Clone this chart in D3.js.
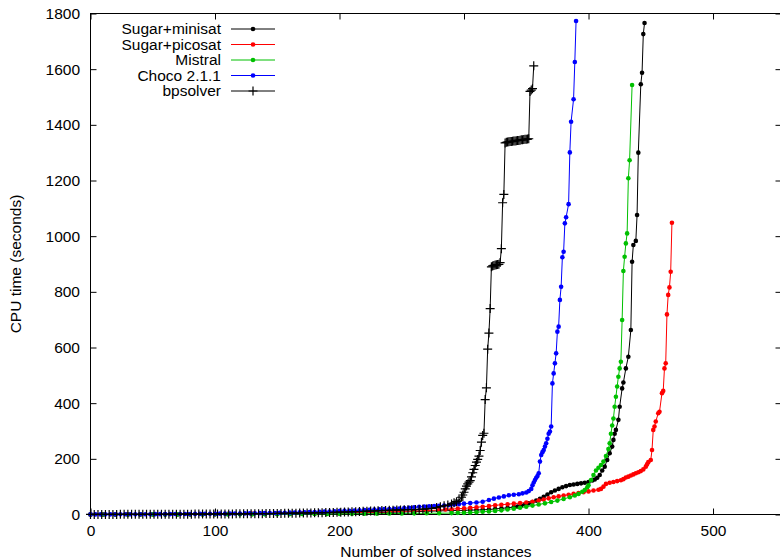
<!DOCTYPE html>
<html>
<head>
<meta charset="utf-8">
<script src="https://cdnjs.cloudflare.com/ajax/libs/d3/7.8.5/d3.min.js"></script>
<style>
  body { margin: 0; background: #fff; }
  text { font-family: "Liberation Sans", Arial, sans-serif; font-size: 15.5px; fill: #000; }
</style>
</head>
<body>
<div id="chart"></div>
<script>
// cactus plot: instance count vs CPU time (s)
const xTicks = [0, 100, 200, 300, 400, 500];
const yTicks = [0, 200, 400, 600, 800, 1000, 1200, 1400, 1600, 1800];
const seriesNames = ['Sugar+minisat', 'Sugar+picosat', 'Mistral', 'Choco 2.1.1', 'bpsolver'];

const sugarMinisat = [
  [0,0.2],[10,0.3],[20,0.4],[30,0.5],[40,0.6],[50,0.7],[60,0.8],[70,0.9],[80,1],[90,1.2],
  [100,1.4],[110,1.6],[120,1.8],[130,2],[140,2.3],[150,2.6],[160,3],[170,3.4],[180,3.8],[190,4.3],
  [200,4.8],[210,5.5],[220,6.2],[230,7],[240,8],[250,9],[260,10],[270,11.5],[280,13],[290,14],
  [300,15],[305,16],[310,16],[315,17],[320,18],[325,20],[330,22],[335,24],[340,27],[343,29],
  [346,32],[349,36],[352,40],[355,45],[358,50],[361,56],[364,64],[367,72],[370,80],[373,86],
  [376,92],[379,98],[382,102],[385,106],[388,108],[391,110],[394,112],[397,114],[400,117],[403,122],
  [405,126],[407,132],[409,142],[411,158],[413,172],[415,196],[417,220],[419,244],[420,268],[421,290],
  [422,304],[424,340],[425,387],[427,453],[428,474],[430,525],[432,567],[434,663],[435,908],[436,968],
  [438,983],[439,1076],[440,1300],[442,1546],[443,1587],[444,1726],[445,1766]
];
const sugarPicosat = [
  [0,0.2],[10,0.3],[20,0.4],[30,0.5],[40,0.6],[50,0.7],[60,0.8],[70,0.9],[80,1],[90,1.2],
  [100,1.4],[110,1.6],[120,1.9],[130,2.2],[140,2.5],[150,2.9],[160,3.3],[170,3.8],[180,4.4],[190,5],
  [200,5.8],[210,6.6],[220,7.5],[230,8.5],[240,9.5],[250,11],[260,12.5],[270,14],[280,16],[285,18],
  [290,19],[295,21],[300,22],[305,24],[310,26],[315,28],[320,30],[325,33],[330,35],[335,37],
  [340,39],[345,41],[350,43],[355,46],[360,50],[364,54],[368,58],[372,62],[376,65],[380,68],
  [384,71],[388,74],[392,77],[396,80],[400,83],[404,86],[408,89],[410,92],[412,100],[414,110],
  [417,114],[420,117],[423,120],[426,123],[428,127],[430,133],[432,136],[434,140],[436,144],[438,148],
  [440,152],[442,156],[444,162],[446,172],[447,180],[448,188],[450,196],[451,232],[452,304],[453,316],
  [454,334],[456,364],[457,369],[459,436],[460,444],[461,525],[462,543],[463,719],[464,789],[465,816],
  [466,872],[467,1048]
];
const mistral = [
  [0,0.1],[10,0.1],[20,0.2],[30,0.2],[40,0.3],[50,0.3],[60,0.4],[70,0.4],[80,0.5],[90,0.6],
  [100,0.7],[110,0.8],[120,0.9],[130,1],[140,1.1],[150,1.3],[160,1.5],[170,1.7],[180,1.9],[190,2.1],
  [200,2.4],[210,2.6],[220,2.9],[230,3.2],[240,3.5],[250,3.8],[260,4.1],[270,4.4],[280,4.7],[290,5],
  [295,6],[300,6],[305,7],[310,8],[315,10],[320,11],[325,13],[330,15],[335,18],[340,21],
  [345,24],[350,28],[355,32],[360,36],[365,40],[370,45],[375,50],[380,56],[385,62],[389,68],
  [392,74],[395,82],[397,88],[399,98],[400,105],[402,124],[404,142],[406,158],[408,168],[410,178],
  [412,190],[414,210],[416,235],[417,256],[418,290],[419,320],[420,345],[421,387],[422,423],[423,460],
  [424,495],[425,525],[426,549],[427,699],[428,875],[429,926],[430,974],[431,1010],[432,1208],[433,1273],
  [435,1543]
];
const choco = [
  [0,0.3],[4,0.4],[8,0.4],[12,0.5],[16,0.5],[20,0.6],[24,0.7],[28,0.7],[32,0.8],[36,0.9],
  [40,1],[44,1.1],[48,1.1],[52,1.2],[56,1.3],[60,1.4],[64,1.5],[68,1.6],[72,1.7],[76,1.8],
  [80,2],[84,2.1],[88,2.3],[92,2.5],[96,2.6],[100,2.8],[104,3],[108,3.1],[112,3.3],[116,3.5],
  [120,3.8],[124,4],[128,4.2],[132,4.5],[136,4.8],[140,5],[144,5.3],[148,5.6],[152,6],[156,6.3],
  [160,6.7],[164,7.1],[168,7.6],[172,8],[176,8.5],[180,9],[184,9.6],[188,10.2],[192,10.8],[196,11.5],
  [200,12.2],[204,12.9],[208,13.6],[212,14.4],[216,15.2],[220,16],[224,16.8],[228,17.6],[232,18.4],[236,19.2],
  [240,20],[244,20.8],[248,21.6],[252,22.8],[256,24.4],[260,26],[264,27.5],[268,28.5],[272,29.4],[276,30.2],
  [280,31],[284,32.5],[288,34],[292,35.8],[296,37.4],[300,39],[305,41],[310,43],[315,46],[320,52],
  [324,57],[328,61],[332,65],[336,69],[340,71],[344,73],[347,76],[350,79],[352,84],[354,92],
  [355,105],[356,115],[357,124],[358,132],[359,138],[360,148],[361,190],[362,214],[363,224],[364,232],
  [365,244],[366,256],[367,272],[368,290],[369,298],[370,316],[371,471],[372,507],[373,543],[374,579],
  [375,657],[376,675],[377,771],[378,818],[379,924],[380,944],[381,1046],[382,1068],[384,1115],[385,1301],
  [386,1411],[388,1492],[389,1626],[390,1773]
];
const bpsolver = [
  [0,0.2],[3,0.2],[6,0.3],[9,0.3],[12,0.3],[15,0.4],[18,0.4],[21,0.4],[24,0.5],[27,0.5],
  [30,0.5],[33,0.6],[36,0.6],[39,0.6],[42,0.7],[45,0.7],[48,0.8],[51,0.8],[54,0.8],[57,0.9],
  [60,0.9],[63,1],[66,1],[69,1.1],[72,1.1],[75,1.2],[78,1.3],[81,1.3],[84,1.4],[87,1.4],
  [90,1.5],[93,1.6],[96,1.7],[99,1.8],[102,1.8],[105,1.9],[108,2],[111,2.1],[114,2.2],[117,2.3],
  [120,2.4],[123,2.5],[126,2.6],[129,2.8],[132,2.9],[135,3],[138,3.1],[141,3.3],[144,3.4],[147,3.6],
  [150,3.8],[153,4],[156,4.2],[159,4.4],[162,4.6],[165,4.8],[168,5],[171,5.3],[174,5.5],[177,5.8],
  [180,6],[183,6.3],[186,6.6],[189,6.9],[192,7.2],[195,7.6],[198,8],[201,8.4],[204,8.8],[207,9.3],
  [210,9.8],[213,10.3],[216,10.8],[219,11.3],[222,11.8],[225,12.4],[228,12.9],[231,13.5],[234,14],[237,14.5],
  [240,15],[243,15.5],[246,16],[249,16.4],[252,16.8],[255,17],[258,17.3],[261,17.6],[264,18.2],[267,19],
  [270,20],[274,22],[278,25],[281,28],[284,31],[287,34],[290,38],[292,42],[294,46],[296,52],
  [298,62],[299,70],[300,80],[301,92],[302,102],[303,110],[304,116],[305,122],[306,135],[307,150],
  [308,162],[309,176],[310,188],[311,198],[312,210],[313,230],[314,260],[315,284],[316,292],[317,413],
  [318,455],[319,594],[320,652],[321,740],[322,890],[323,893],[324,895],[325,896],[326,897],[327,898],
  [328,899],[329,905],[330,955],[331,1120],[332,1150],[333,1335],[334,1337],[335,1338],[336,1339],[337,1340],
  [338,1340],[339,1341],[340,1342],[341,1342],[342,1343],[343,1344],[344,1344],[345,1345],[346,1346],[347,1346],
  [348,1347],[349,1348],[350,1348],[351,1349],[352,1350],[353,1520],[354,1525],[355,1530],[356,1612]
];

const seriesData = [sugarMinisat, sugarPicosat, mistral, choco, bpsolver];
const seriesColors = ['#000000', '#ff0000', '#00c000', '#0000ff', '#000000'];
const seriesMarks = ['dot', 'dot', 'dot', 'dot', 'plus'];

const width = 780, height = 560;
const plot = { left: 90.5, right: 781.5, top: 13.5, bottom: 514.5 };

const svg = d3.select('#chart')
  .append('svg')
  .attr('width', width)
  .attr('height', height);

const x = d3.scaleLinear().domain([0, 555]).range([plot.left, plot.right]);
const y = d3.scaleLinear().domain([0, 1800]).range([plot.bottom, plot.top]);

// axes with inward ticks, mirrored on top/right
svg.append('g')
  .attr('transform', `translate(0,${plot.bottom})`)
  .call(d3.axisBottom(x).tickValues(xTicks).tickFormat(d3.format('d')).tickSizeInner(-6).tickSizeOuter(0).tickPadding(10))
  .call(g => g.select('.domain').remove());
svg.append('g')
  .attr('transform', `translate(0,${plot.top})`)
  .call(d3.axisTop(x).tickValues(xTicks).tickSizeInner(-6).tickSizeOuter(0).tickFormat(''))
  .call(g => g.select('.domain').remove());
svg.append('g')
  .attr('transform', `translate(${plot.left},0)`)
  .call(d3.axisLeft(y).tickValues(yTicks).tickFormat(d3.format('d')).tickSizeInner(-6).tickSizeOuter(0).tickPadding(10.5))
  .call(g => g.select('.domain').remove());
svg.append('g')
  .attr('transform', `translate(${plot.right},0)`)
  .call(d3.axisRight(y).tickValues(yTicks).tickSizeInner(-6).tickSizeOuter(0).tickFormat(''))
  .call(g => g.select('.domain').remove());

svg.selectAll('.tick line').attr('stroke', '#000');
svg.selectAll('.tick text').style('font-size', '15.5px').attr('fill', '#000');

svg.append('rect')
  .attr('x', plot.left).attr('y', plot.top)
  .attr('width', plot.right - plot.left).attr('height', plot.bottom - plot.top)
  .attr('fill', 'none').attr('stroke', '#000').attr('stroke-width', 1);

// axis titles
svg.append('text')
  .attr('x', (plot.left + plot.right) / 2)
  .attr('y', 557)
  .style('text-anchor', 'middle')
  .text('Number of solved instances');
svg.append('text')
  .attr('transform', `translate(21,${(plot.top + plot.bottom) / 2}) rotate(-90)`)
  .style('text-anchor', 'middle')
  .text('CPU time (seconds)');

const line = d3.line().x(d => x(d[0])).y(d => y(d[1]));

function drawMarks(g, pts, mark, color) {
  if (mark === 'plus') {
    g.selectAll('path.mk')
      .data(pts)
      .join('path')
      .attr('class', 'mk')
      .attr('d', d => `M${x(d[0]) - 4.5},${y(d[1])}H${x(d[0]) + 4.5}M${x(d[0])},${y(d[1]) - 4.5}V${y(d[1]) + 4.5}`)
      .attr('stroke', color)
      .attr('stroke-width', 1.2)
      .attr('fill', 'none');
  } else {
    g.selectAll('circle.mk')
      .data(pts)
      .join('circle')
      .attr('class', 'mk')
      .attr('cx', d => x(d[0]))
      .attr('cy', d => y(d[1]))
      .attr('r', 2.3)
      .attr('fill', color);
  }
}

svg.append('clipPath').attr('id', 'clip')
  .append('rect')
  .attr('x', plot.left - 5).attr('y', plot.top - 5)
  .attr('width', plot.right - plot.left + 10).attr('height', plot.bottom - plot.top + 10);

seriesData.forEach((data, i) => {
  const g = svg.append('g').attr('clip-path', 'url(#clip)');
  g.append('path')
    .datum(data)
    .attr('d', line)
    .attr('fill', 'none')
    .attr('stroke', seriesColors[i])
    .attr('stroke-width', 1);
  drawMarks(g, data, seriesMarks[i], seriesColors[i]);
});

// legend
const legendRows = [29, 44.5, 60, 75.5, 91];
seriesNames.forEach((name, i) => {
  const ly = legendRows[i];
  svg.append('text')
    .attr('x', 221)
    .attr('y', ly)
    .attr('dy', '0.35em')
    .style('text-anchor', 'end')
    .text(name);
  svg.append('line')
    .attr('x1', 231).attr('x2', 275)
    .attr('y1', ly).attr('y2', ly)
    .attr('stroke', seriesColors[i])
    .attr('stroke-width', 1);
  drawMarks(svg.append('g'), [[x.invert(253), y.invert(ly)]], seriesMarks[i], seriesColors[i]);
});
</script>
</body>
</html>
